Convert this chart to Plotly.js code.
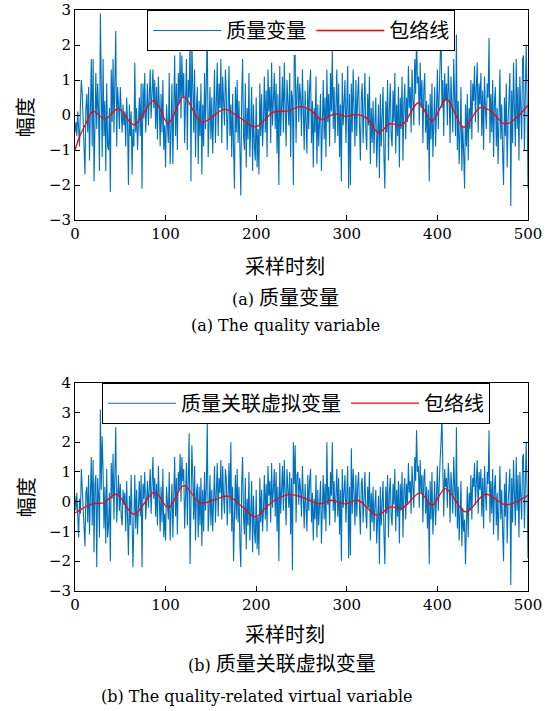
<!DOCTYPE html>
<html>
<head>
<meta charset="utf-8">
<script src="https://cdn.plot.ly/plotly-3.0.1.min.js"></script>
<style>html,body{margin:0;padding:0;background:#fff;}#chart{width:552px;height:711px;}</style>
</head>
<body>
<div id="chart"></div>
<script>
// ---- data ----
const xTickVals = [0, 100, 200, 300, 400, 500];
const seriesA_name = "质量变量";
const seriesB_name = "质量关联虚拟变量";
const envName = "包络线";

const qualityVar = [
-0.5,-0.2,-0.6,0.1,-0.4,-0.9,0.3,1.0,0.6,-0.3,
-0.8,-1.7,0.2,0.6,-0.5,0.8,-1.3,0.4,1.6,-0.9,
1.6,-1.9,0.5,1.2,-0.4,0.9,0.1,-1.6,2.9,0.3,
-1.2,1.6,-0.6,0.4,-1.6,0.9,-0.9,-1.0,0.2,-2.2,
1.3,-0.2,1.6,-0.5,0.6,2.4,-0.9,0.8,0.3,-0.4,
0.8,-0.2,-0.5,0.3,-0.3,0.1,-0.9,0.5,-0.2,-2.0,
0.3,-0.6,0.1,-1.7,-0.4,-0.9,1.5,-0.5,0.2,-1.0,
-0.3,0.5,-0.6,0.9,-2.1,0.9,-0.1,1.2,-0.5,0.6,
0.9,-0.3,0.7,1.3,-0.1,0.4,1.3,0.2,1.0,-0.4,
0.8,-0.7,1.1,0.3,-0.9,0.6,-0.5,1.0,-1.0,-0.3,
-1.5,0.3,-0.2,-0.8,1.2,-1.4,-0.5,0.9,-1.4,0.4,
1.7,-0.6,0.9,-1.0,1.2,0.3,1.8,-0.1,1.7,0.5,
1.2,-0.8,0.6,1.6,-1.0,1.0,0.5,2.3,-1.9,2.1,
0.9,-0.5,1.3,-1.2,0.2,0.8,-1.4,0.4,-0.6,0.9,
-1.7,0.3,-0.9,1.2,-0.4,0.6,2.4,-1.2,-0.2,0.8,
-0.7,0.5,-1.1,0.4,1.3,-0.8,0.2,1.5,-0.6,0.9,
0.2,1.6,-0.8,1.1,0.4,-0.3,1.3,0.6,-1.0,0.8,
1.4,-0.6,0.3,-1.2,0.6,-0.9,-2.1,0.8,-0.5,1.0,
-0.8,0.4,-1.3,-2.3,0.5,1.6,-0.6,-1.0,0.9,-1.5,
0.2,-0.7,1.2,-1.2,-0.3,0.8,-1.6,0.3,-0.9,-1.3,
0.5,-1.5,-0.4,-1.7,0.9,-0.6,0.6,-0.9,-0.2,1.1,
-0.5,0.7,-1.2,1.3,0.1,0.8,-0.8,1.5,-0.3,0.6,
1.2,-0.4,0.9,-1.1,0.6,-2.0,1.4,-0.6,0.8,1.1,
-0.5,1.5,0.2,-0.9,1.0,0.3,-0.3,1.2,-1.2,0.7,
0.5,-2.0,1.7,1.7,-0.8,0.8,1.1,-0.2,0.9,0.5,
-0.6,1.3,0.4,-1.0,0.7,-0.3,-1.1,1.0,-0.4,0.8,
1.3,-0.8,0.4,-1.5,0.2,-0.5,1.1,-1.4,0.3,-0.9,
-0.3,0.6,-1.6,0.3,1.0,-0.7,0.5,-1.2,1.3,-0.2,
0.6,-0.9,1.2,0.1,1.9,-0.4,0.8,-0.8,0.4,1.3,
-0.6,0.9,-1.2,0.3,-1.9,1.2,-0.3,0.7,1.0,-0.8,
0.3,1.4,-2.1,0.6,-2.0,0.9,-0.5,1.3,0.2,-0.9,
1.0,-0.6,0.6,1.1,-0.3,-1.3,0.5,0.9,-0.8,0.3,
1.2,-0.5,-1.0,0.6,-0.3,1.1,-1.4,0.2,-0.8,0.4,
-1.1,-0.2,0.5,-1.5,-0.6,0.3,-1.8,0.6,-0.9,-0.3,
0.8,-1.2,-2.1,0.4,-0.5,1.0,-1.3,0.2,0.9,-0.6,
-0.9,0.7,-0.2,1.2,-1.1,0.3,-0.6,0.8,-1.5,0.5,
-0.4,1.1,-1.3,0.3,0.9,-0.7,0.5,-0.2,1.4,0.2,
0.8,-0.5,1.3,0.4,-0.3,1.6,0.6,2.3,0.9,1.1,
-0.3,1.5,0.2,1.0,-0.8,0.7,1.2,-0.5,0.4,-1.0,
0.3,-1.9,0.6,-0.7,0.9,-1.2,0.1,0.8,-0.9,0.5,
1.3,-0.4,0.9,1.5,2.5,0.2,1.0,-0.6,1.2,0.4,
0.9,-0.3,1.4,0.6,-0.8,1.1,0.3,-0.5,1.6,0.2,
-0.6,2.3,-1.0,0.4,-1.4,-0.5,0.8,-1.6,-0.3,-1.1,
-2.1,0.3,-0.9,0.6,-1.3,0.2,-0.4,1.0,-0.7,0.9,
0.4,1.4,-0.2,0.8,1.5,-0.5,0.9,0.3,1.2,-0.6,
0.7,-1.0,1.1,0.2,-0.4,0.9,0.5,2.2,-0.8,0.6,
-0.5,1.0,-1.2,0.4,0.8,-0.9,0.2,-1.4,0.6,1.3,
-0.7,0.3,-1.1,-2.0,0.5,-0.6,0.9,-1.5,-0.2,0.4,
1.2,-2.6,0.7,-0.8,1.5,0.2,-0.9,1.6,-0.4,0.8,
-1.3,1.1,0.3,-0.7,1.6,1.7,-1.0,0.6,2.0,0.5,
-2.1];

const virtualVar = [
0.2,-0.3,0.3,-0.6,-1.2,0.1,-0.4,1.1,0.5,-0.5,
-0.9,-1.5,0.3,0.5,-0.7,0.9,-1.1,0.6,1.5,-0.8,
1.4,-1.7,0.6,0.9,-2.2,0.8,0.2,-1.2,3.1,0.4,
2.2,1.0,-0.9,0.5,-1.4,1.1,-1.2,-0.8,0.3,-2.0,
1.3,0.1,1.6,-0.6,0.8,2.5,-0.7,0.5,0.9,-0.3,
0.6,-0.5,-0.8,0.4,-0.1,0.3,-1.0,0.7,-0.4,-1.8,
0.2,-0.8,0.9,-1.2,-2.2,-0.6,0.9,-0.9,0.4,-1.1,
-0.2,0.7,-0.5,0.9,-2.2,0.6,0.1,1.0,-0.6,0.3,
0.7,-0.2,0.9,1.1,-0.4,0.5,1.5,0.1,0.8,-0.5,
0.6,-0.8,1.2,0.2,-1.0,0.5,-0.7,1.1,-1.2,-0.4,
-1.3,0.5,-0.4,-0.6,1.0,-1.3,-0.3,0.6,-1.2,0.1,
1.5,-0.5,0.8,-1.1,1.0,0.4,1.6,0.0,1.5,0.7,
1.1,-0.9,0.5,1.3,-0.8,1.1,2.3,-2.1,0.7,1.9,
0.8,-0.6,1.2,-1.3,0.3,0.6,-1.2,0.5,-0.8,0.8,
-1.5,0.4,-1.0,1.0,-0.3,0.5,2.7,-1.0,-0.3,0.9,
-0.8,0.4,-1.0,0.6,1.2,-0.7,0.3,1.3,-0.5,0.8,
0.3,1.4,-0.6,1.2,0.2,-0.4,1.1,0.8,-0.8,0.6,
1.3,-0.4,2.0,-1.0,0.5,-2.0,-0.8,0.9,-0.6,1.1,
-0.7,0.5,-1.4,-2.2,0.6,1.5,-0.5,-1.1,0.8,-1.6,
0.1,-0.8,1.0,-1.3,-0.4,0.7,-1.7,0.2,-1.0,-1.4,
0.4,-1.6,-0.5,-1.8,0.8,-0.7,0.4,-1.0,-0.3,0.9,
-0.6,0.6,-1.0,1.2,0.2,0.7,-0.7,1.3,-0.2,0.5,
1.1,-0.5,1.0,-1.0,0.5,-2.0,1.3,-0.4,0.9,1.2,
-0.3,1.4,0.3,-0.8,1.1,0.4,-0.2,1.0,-1.1,0.8,
-2.3,2.0,0.6,1.9,-0.7,0.9,1.0,-0.1,0.8,0.4,
-0.5,1.2,0.3,-0.9,0.6,-0.4,-1.0,0.9,-0.3,0.7,
1.1,-0.7,0.3,-1.3,0.1,-0.6,0.9,-1.2,0.4,-0.8,
-0.2,0.7,-1.4,0.4,0.9,-0.6,0.6,-1.0,2.0,-0.1,
0.5,-0.8,1.0,0.2,2.0,-0.3,0.7,-0.7,0.5,1.1,
-0.5,0.8,-1.1,0.4,-2.0,1.1,-0.2,0.6,0.9,-0.7,
0.4,1.2,-1.9,0.5,-1.8,1.8,-0.4,1.1,0.3,-0.8,
0.9,-0.5,0.5,1.0,-0.2,-1.1,0.6,0.8,-0.7,0.4,
1.0,-0.4,-0.9,0.5,-0.2,1.0,-1.3,0.3,-0.7,0.5,
-1.0,-0.1,0.4,-1.4,-0.5,0.2,-2.1,0.5,-0.8,-0.2,
0.7,-1.1,-2.1,0.5,-0.4,0.9,-1.2,0.3,0.8,-0.5,
-0.8,0.6,-0.1,1.1,-1.0,0.4,-0.5,0.7,-1.4,0.6,
-0.3,1.0,-1.2,0.4,0.8,-0.6,0.6,-0.1,1.3,0.3,
0.7,-0.4,1.2,0.5,-0.2,1.5,0.7,2.4,1.0,1.2,
-0.2,1.4,0.3,0.9,-0.7,0.8,1.1,-0.4,0.5,-0.9,
0.4,-2.1,0.7,-0.6,1.0,-1.1,0.2,0.7,-0.8,0.6,
1.2,-0.3,1.0,1.4,2.0,2.9,1.1,-0.5,1.1,0.5,
0.8,-0.2,1.3,0.7,-0.7,1.0,0.4,-0.4,1.5,0.3,
-0.5,2.5,-0.9,0.5,-1.3,-0.4,0.7,-1.5,-0.2,-1.0,
-0.6,-2.1,-0.8,0.5,-1.2,0.3,-0.3,0.9,-0.6,0.8,
0.5,1.3,-0.1,0.9,1.4,-0.4,1.0,0.4,1.1,-0.5,
0.8,-0.9,1.2,0.3,-0.3,1.0,0.6,2.4,-0.7,0.7,
-0.4,1.1,-1.1,0.5,0.9,-0.8,0.3,-1.3,0.7,1.2,
-0.6,0.4,-1.0,-2.0,0.6,-0.5,1.0,-1.4,-0.1,0.5,
1.1,-2.8,0.8,-0.7,1.4,0.3,-0.8,1.5,-0.3,0.9,
-1.2,1.0,0.4,-0.6,1.5,1.6,-0.9,0.7,2.0,0.4,
-1.9];

const env1X = [0,5,11,20,33,48,65,87,103,120,140,165,182,199,210,219,235,249,260,272,287,299,311,322,335,348,361,379,394,410,429,447,458,475,488,500];
const env1Y = [-1.0,-0.62,-0.3,0.1,-0.11,0.18,-0.28,0.41,-0.23,0.52,-0.2,0.16,-0.08,-0.34,-0.12,0.08,0.12,0.24,0.14,-0.13,0.03,-0.04,0.02,-0.09,-0.5,-0.25,-0.29,0.35,-0.17,0.45,-0.35,0.21,0.13,-0.26,-0.06,0.29];

const env2X = [0,10,20,31,46,65,88,103,120,138,153,169,184,199,212,223,238,252,270,283,298,312,333,348,361,381,394,409,431,453,475,488,500];
const env2Y = [-0.38,-0.2,-0.06,-0.04,0.25,-0.42,0.32,-0.2,0.54,-0.04,0.05,0.19,-0.15,-0.51,-0.15,0.1,0.24,0.14,-0.07,0.05,-0.07,0.05,-0.45,-0.18,-0.22,0.3,-0.12,0.44,-0.34,0.25,-0.1,0.01,0.22];

const xIndex = qualityVar.map((_, i) => i);

// ---- styling ----
const FONT = "'DejaVu Serif', 'Liberation Serif', 'Noto Sans CJK SC', serif";
const CJK = "'Noto Sans CJK SC', 'DejaVu Serif', serif";
const BLUE = "#0072BD";
const RED = "#FF0000";

const traces = [
  {x: xIndex, y: qualityVar, type: 'scatter', mode: 'lines', name: seriesA_name,
   line: {color: BLUE, width: 1.1}, xaxis: 'x', yaxis: 'y', legend: 'legend'},
  {x: env1X, y: env1Y, type: 'scatter', mode: 'lines', name: envName,
   line: {color: RED, width: 1.3, shape: 'spline', smoothing: 1}, xaxis: 'x', yaxis: 'y', legend: 'legend'},
  {x: xIndex, y: virtualVar, type: 'scatter', mode: 'lines', name: seriesB_name,
   line: {color: BLUE, width: 1.1}, xaxis: 'x2', yaxis: 'y2', legend: 'legend2'},
  {x: env2X, y: env2Y, type: 'scatter', mode: 'lines', name: envName,
   line: {color: RED, width: 1.3, shape: 'spline', smoothing: 1}, xaxis: 'x2', yaxis: 'y2', legend: 'legend2'}
];

const axBase = {
  showline: true, linecolor: '#000', linewidth: 1, mirror: 'ticks',
  ticks: 'inside', ticklen: 5, tickcolor: '#000', showgrid: false, zeroline: false,
  tickfont: {family: FONT, size: 15, color: '#000'}
};

const P = y => (591 - y) / 581;   // pixel row -> paper y
const PX = x => (x - 74.7) / 453; // pixel col -> paper x
const cj = s => '<span style="font-family:' + "Noto Sans CJK SC" + ';font-size:20px">' + s + '</span>';

const legBase = {orientation: 'h', xanchor: 'left', yanchor: 'top',
  bgcolor: '#fff', bordercolor: '#000', borderwidth: 1,
  font: {family: CJK, size: 20, color: '#000'}, itemwidth: 68, tracegroupgap: 0,
  entrywidth: 0, entrywidthmode: 'pixels'};

const layout = {
  width: 552, height: 711,
  margin: {l: 75, r: 24, t: 10, b: 120},
  paper_bgcolor: '#fff', plot_bgcolor: '#fff',
  font: {family: FONT, size: 16, color: '#000'},
  showlegend: true,
  xaxis: Object.assign({}, axBase, {domain: [0, 1], anchor: 'y', range: [0, 500], tickvals: xTickVals}),
  yaxis: Object.assign({}, axBase, {domain: [P(220), 1], anchor: 'x', range: [-3, 3], dtick: 1}),
  xaxis2: Object.assign({}, axBase, {domain: [0, 1], anchor: 'y2', range: [0, 500], tickvals: xTickVals}),
  yaxis2: Object.assign({}, axBase, {domain: [0, P(382.7)], anchor: 'x2', range: [-3, 4], dtick: 1}),
  legend: Object.assign({}, legBase, {x: PX(147), y: 1}),
  legend2: Object.assign({}, legBase, {x: PX(101.7), y: P(382.7)}),
  annotations: [
    {text: cj('采样时刻'), xref: 'paper', yref: 'paper', x: PX(285), y: P(265), showarrow: false, xanchor: 'center', yanchor: 'middle'},
    {text: '(a) ' + cj('质量变量'), xref: 'paper', yref: 'paper', x: PX(285), y: P(296), showarrow: false, xanchor: 'center', yanchor: 'middle'},
    {text: '(a) The quality variable', xref: 'paper', yref: 'paper', x: PX(285), y: P(326), showarrow: false, xanchor: 'center', yanchor: 'middle'},
    {text: cj('幅度'), xref: 'paper', yref: 'paper', x: PX(25), y: P(117), showarrow: false, xanchor: 'center', yanchor: 'middle', textangle: -90},
    {text: cj('采样时刻'), xref: 'paper', yref: 'paper', x: PX(285), y: P(633), showarrow: false, xanchor: 'center', yanchor: 'middle'},
    {text: '(b) ' + cj('质量关联虚拟变量'), xref: 'paper', yref: 'paper', x: PX(282), y: P(662), showarrow: false, xanchor: 'center', yanchor: 'middle'},
    {text: '(b) The quality-related virtual variable', xref: 'paper', yref: 'paper', x: PX(257), y: P(696), showarrow: false, xanchor: 'center', yanchor: 'middle'},
    {text: cj('幅度'), xref: 'paper', yref: 'paper', x: PX(25), y: P(497), showarrow: false, xanchor: 'center', yanchor: 'middle', textangle: -90}
  ]
};

Plotly.newPlot('chart', traces, layout, {displayModeBar: false, staticPlot: true});
</script>
</body>
</html>
